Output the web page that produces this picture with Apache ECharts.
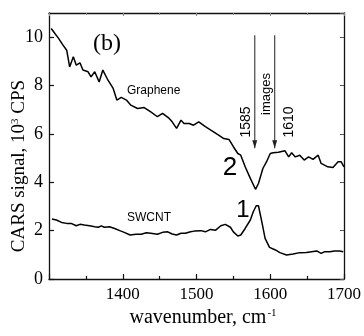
<!DOCTYPE html>
<html><head><meta charset="utf-8">
<script src="https://cdn.jsdelivr.net/npm/echarts@6/dist/echarts.min.js"></script>
<style>html,body{margin:0;padding:0;background:#fff}#c{width:364px;height:336px}</style>
</head><body><div id="c"></div>
<script>
const grapheneX = [1303,1308,1313,1319,1324,1328,1333,1337,1342,1346,1353,1357,1362,1368,1373,1380,1387,1392,1398,1405,1411,1420,1429,1438,1447,1454,1463,1467,1473,1479,1483,1490,1496,1503,1512,1521,1530,1537,1544,1550,1556,1560,1566,1573,1580,1584,1590,1595,1600,1604,1611,1620,1625,1629,1634,1640,1646,1652,1658,1665,1669,1678,1685,1692,1696,1700];
const grapheneY = [10.36,10.15,9.95,9.67,9.46,8.77,9.19,8.84,8.94,8.64,8.57,8.36,8.57,8.15,8.64,8.22,7.88,7.40,7.51,7.40,7.19,7.05,7.09,6.91,6.71,6.85,6.64,6.50,6.23,6.57,6.43,6.43,6.36,6.50,6.30,6.13,5.95,5.81,5.77,5.47,5.19,5.12,4.64,4.16,3.71,3.95,4.57,4.85,5.19,5.22,5.24,5.30,5.05,5.22,5.05,5.12,4.92,5.05,4.95,5.12,4.78,4.64,4.61,4.85,4.85,4.64];
const swcntX = [1304,1310,1317,1324,1330,1337,1342,1348,1355,1362,1367,1371,1375,1382,1389,1396,1402,1410,1418,1425,1432,1438,1447,1454,1461,1467,1473,1479,1485,1492,1497,1506,1512,1519,1526,1533,1539,1546,1550,1556,1560,1566,1573,1577,1581,1584,1589,1593,1599,1607,1613,1622,1631,1640,1649,1656,1663,1665,1669,1674,1681,1687,1694,1699];
const swcntY = [2.48,2.44,2.34,2.30,2.30,2.20,2.26,2.23,2.20,2.16,2.14,2.20,2.14,2.16,2.09,2.00,1.93,1.82,1.85,1.85,1.91,1.89,1.85,1.93,1.95,1.86,1.82,1.89,1.89,1.95,1.98,2.00,1.95,2.05,2.02,2.20,2.26,2.14,1.95,1.78,1.82,2.09,2.44,2.78,3.03,3.03,2.30,1.68,1.31,1.20,1.09,0.99,1.03,1.09,1.10,1.13,1.16,1.23,1.06,1.13,1.13,1.16,1.16,1.13];
const arrowX = [1579, 1606];
const arrowY = [10.08, 5.41];
const arrowLabels = ['1585', '1610'];
const seriesNames = ['Graphene', 'SWCNT'];
const curveNumbers = ['2', '1'];
const panelLabel = '(b)';
const imagesLabel = 'images';

const SERIF = '"Liberation Serif","Times New Roman",serif';
const SANS = '"Liberation Sans",Arial,sans-serif';
const zip = (xs, ys) => xs.map((x, i) => [x, ys[i]]);

const axisColor = '#111';
const chart = echarts.init(document.getElementById('c'), null, {renderer: 'canvas'});

function arrowSeries(x) {
  return {
    type: 'line', xAxisIndex: 0, yAxisIndex: 0, silent: true, animation: false,
    lineStyle: {color: '#444', width: 1.2},
    data: [
      {value: [x, arrowY[0]], symbol: 'none'},
      {value: [x, arrowY[1]], symbol: 'triangle', symbolSize: [5, 8], symbolRotate: 180,
       symbolOffset: [0, -4], itemStyle: {color: '#222'}}
    ]
  };
}

const option = {
  backgroundColor: '#fff',
  animation: false,
  grid: {left: 49, right: 18, top: 13, bottom: 57, containLabel: false},
  xAxis: [{
    type: 'value', min: 1300, max: 1700, interval: 100, position: 'bottom',
    axisLine: {show: true, onZero: false, lineStyle: {color: axisColor, width: 1.3}},
    axisTick: {show: true, inside: true, length: 5, lineStyle: {color: axisColor, width: 1.2}},
    minorTick: {show: true, splitNumber: 2, length: 3, lineStyle: {color: axisColor, width: 1.2}},
    axisLabel: {show: true, margin: 7, color: '#000', fontFamily: SERIF, fontSize: 17, showMinLabel: false,
                formatter: v => String(v)},
    splitLine: {show: false}
  }, {
    type: 'value', min: 1300, max: 1700, interval: 100, position: 'top',
    axisLine: {show: true, onZero: false, lineStyle: {color: axisColor, width: 1.3}},
    axisTick: {show: true, inside: true, length: 3, lineStyle: {color: '#888', width: 1}},
    minorTick: {show: true, splitNumber: 2, length: 2, lineStyle: {color: '#888', width: 1}},
    axisLabel: {show: false}, splitLine: {show: false}
  }],
  yAxis: [{
    type: 'value', min: 0, max: 11, interval: 2, position: 'left',
    axisLine: {show: true, onZero: false, lineStyle: {color: axisColor, width: 1.3}},
    axisTick: {show: true, inside: true, length: 5, lineStyle: {color: axisColor, width: 1.2}},
    axisLabel: {show: true, margin: 6, color: '#000', fontFamily: SERIF, fontSize: 18, showMaxLabel: false,
                formatter: v => String(v)},
    splitLine: {show: false}
  }, {
    type: 'value', min: 0, max: 11, interval: 2, position: 'right',
    axisLine: {show: true, onZero: false, lineStyle: {color: axisColor, width: 1.3}},
    axisTick: {show: true, inside: true, length: 4, lineStyle: {color: '#555', width: 1}},
    axisLabel: {show: false}, splitLine: {show: false}
  }],
  series: [
    {name: seriesNames[0], type: 'line', xAxisIndex: 0, yAxisIndex: 0, showSymbol: false, symbol: 'none',
     lineStyle: {color: '#000', width: 1.5}, data: zip(grapheneX, grapheneY)},
    {name: seriesNames[1], type: 'line', xAxisIndex: 0, yAxisIndex: 0, showSymbol: false, symbol: 'none',
     lineStyle: {color: '#000', width: 1.5}, data: zip(swcntX, swcntY)},
    arrowSeries(arrowX[0]),
    arrowSeries(arrowX[1])
  ],
  graphic: [
    {type: 'text', x: 107, y: 44, style: {text: panelLabel, font: '24px ' + SERIF, fill: '#000', align: 'center', verticalAlign: 'middle'}},
    {type: 'text', x: 127, y: 91, style: {text: seriesNames[0], font: '12px ' + SANS, fill: '#000', align: 'left', verticalAlign: 'middle'}},
    {type: 'text', x: 127, y: 218, style: {text: seriesNames[1], font: '12px ' + SANS, fill: '#000', align: 'left', verticalAlign: 'middle'}},
    {type: 'text', x: 230, y: 168, style: {text: curveNumbers[0], font: '26px ' + SANS, fill: '#000', align: 'center', verticalAlign: 'middle'}},
    {type: 'text', x: 243, y: 210, style: {text: curveNumbers[1], font: '24px ' + SANS, fill: '#000', align: 'center', verticalAlign: 'middle'}},
    {type: 'text', x: 246, y: 122, rotation: Math.PI / 2, style: {text: arrowLabels[0], font: '14px ' + SANS, fill: '#000', align: 'center', verticalAlign: 'middle'}},
    {type: 'text', x: 266, y: 94, rotation: Math.PI / 2, style: {text: imagesLabel, font: '13px ' + SANS, fill: '#000', align: 'center', verticalAlign: 'middle'}},
    {type: 'text', x: 289, y: 122, rotation: Math.PI / 2, style: {text: arrowLabels[1], font: '14px ' + SANS, fill: '#000', align: 'center', verticalAlign: 'middle'}},
    {type: 'text', x: 19, y: 166, rotation: Math.PI / 2, style: {
      text: '{a|CARS signal, 10}{s|3}{a| CPS}', align: 'center', verticalAlign: 'middle',
      rich: {a: {fontFamily: SERIF, fontSize: 19, color: '#000', verticalAlign: 'bottom'},
             s: {fontFamily: SERIF, fontSize: 11, color: '#000', verticalAlign: 'top'}}}},
    {type: 'text', x: 203, y: 318, style: {
      text: '{a|wavenumber, cm}{s|-1}', align: 'center', verticalAlign: 'middle',
      rich: {a: {fontFamily: SERIF, fontSize: 20, color: '#000', verticalAlign: 'bottom'},
             s: {fontFamily: SERIF, fontSize: 11, color: '#000', verticalAlign: 'top', padding: [0, 0, 4, 1]}}}}
  ]
};
chart.setOption(option);
</script>
</body></html>
